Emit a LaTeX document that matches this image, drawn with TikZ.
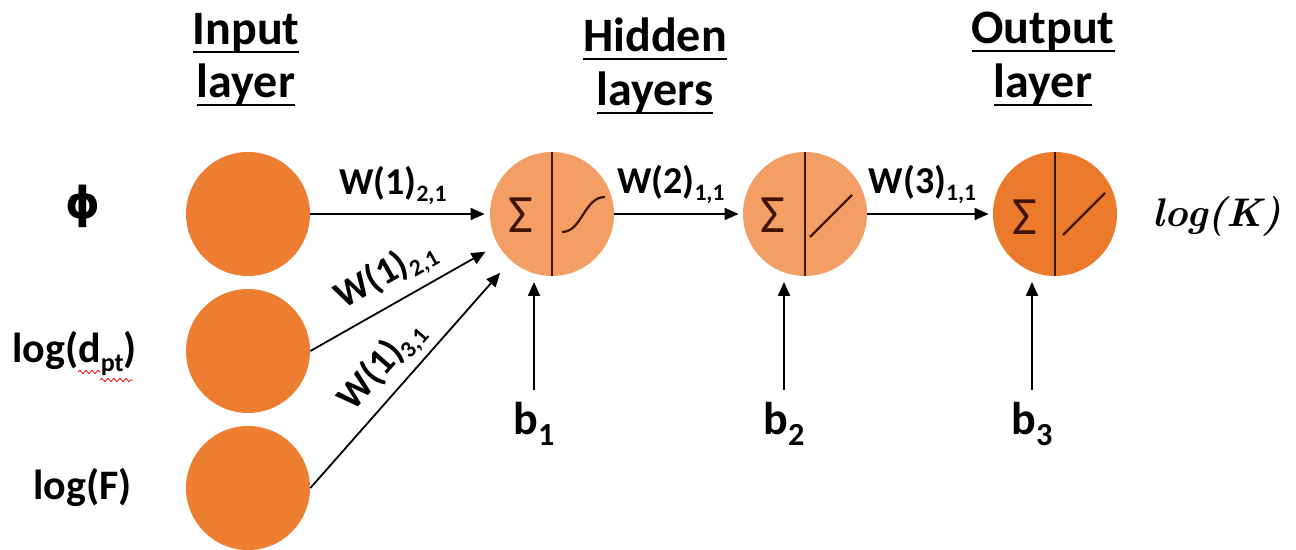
\documentclass[tikz,border=0pt]{standalone}
\usepackage{fontspec}
\setmainfont{Carlito}
\newfontfamily\lmfont{Latin Modern Roman}
\newfontfamily\djfont{DejaVu Sans}
\usepackage{graphicx}
\usetikzlibrary{arrows.meta,decorations.pathmorphing}
\definecolor{inorange}{HTML}{ED7D31}
\definecolor{hidorange}{HTML}{F29E65}
\definecolor{outorange}{HTML}{EC7A2C}
\definecolor{divcol}{HTML}{3F1400}
\newcommand\lsub[1]{\raisebox{-0.2em}{\scalebox{0.62}{#1}}}
\newcommand\bsub[1]{\raisebox{-0.22em}{\scalebox{0.7}{#1}}}
\newcommand\ulbox[1]{\setbox0\hbox{#1}\rlap{\rule[-4pt]{\wd0}{1.1pt}}\box0}
\begin{document}
\begin{tikzpicture}[x=0.5pt,y=-0.5pt,
  incirc/.style={circle,fill=inorange,minimum size=62pt,inner sep=0pt},
  hidcirc/.style={circle,fill=hidorange,minimum size=62pt,inner sep=0pt},
  outcirc/.style={circle,fill=outorange,minimum size=62pt,inner sep=0pt},
  arr/.style={-{Triangle[length=7pt,width=6pt]},line width=0.9pt,black},
  ttl/.style={font=\fontsize{24}{28}\selectfont\bfseries,anchor=base,inner sep=0pt},
  lbl/.style={font=\fontsize{21}{24}\selectfont\bfseries,inner sep=0pt},
  wlbl/.style={font=\fontsize{19}{22}\selectfont\bfseries,inner sep=1pt},
  sig/.style={font=\fontsize{27}{30}\selectfont,text=divcol,inner sep=0pt},
  act/.style={line width=1.1pt,draw=divcol},
  divl/.style={line width=1pt,draw=divcol},
  blbl/.style={font=\fontsize{23}{28}\selectfont\bfseries,inner sep=0pt},
  outlbl/.style={font=\fontsize{20}{24}\selectfont\lmfont\bfseries\itshape,inner sep=0pt}]
\useasboundingbox (0,0) rectangle (1296,550);
% titles
\node[ttl] (t1a) at (246,45) {\ulbox{Input}};
\node[ttl] (t1b) at (246,98) {\ulbox{layer}};
\node[ttl] (t2a) at (655,52) {\ulbox{Hidden}};
\node[ttl] (t2b) at (655,106) {\ulbox{layers}};
\node[ttl] (t3a) at (1043,44) {\ulbox{Output}};
\node[ttl] (t3b) at (1043,98) {\ulbox{layer}};
% input labels
\node[inner sep=0pt,font=\fontsize{22}{26}\selectfont\djfont\bfseries] (phi) at (83,206) {ϕ};
\node[lbl,anchor=base west] (ld) at (12,363) {log(d\lsub{pt})};
\node[lbl,anchor=base west] (lf) at (33,500) {log(F)};
\draw[red,line width=0.4pt,decorate,decoration={snake,amplitude=0.8pt,segment length=3pt}] (78,372) -- (100,372);
\draw[red,line width=0.4pt,decorate,decoration={snake,amplitude=0.8pt,segment length=3pt}] (100,380) -- (133,380);
% circles
\node[incirc] (i1) at (248,214) {};
\node[incirc] (i2) at (248,351) {};
\node[incirc] (i3) at (248,488) {};
\node[hidcirc] (h1) at (552,214) {};
\node[hidcirc] (h2) at (805,214) {};
\node[outcirc] (oc) at (1055,214) {};
% dividers, sums, activations
\draw[divl] (h1.north) -- (h1.south);
\draw[divl] (h2.north) -- (h2.south);
\draw[divl] (oc.north) -- (oc.south);
\node[sig] (s1) at (521,215) {Σ};
\node[sig] (s2) at (773,215) {Σ};
\node[sig] (s3) at (1025,217) {Σ};
\draw[act] (562,232) .. controls (582,232) and (584,197) .. (605,197);
\draw[act] (810,237) -- (852,195);
\draw[act] (1063,235) -- (1105,193);
% connectors
\draw[arr,shorten >=2.5pt] (i1) -- (h1) node[wlbl,pos=0.46,above=3pt] {W(1)\lsub{2,1}};
\draw[arr,shorten >=7pt] (i2.east) -- (h1) node[wlbl,sloped,pos=0.48,above=3pt] {W(1)\lsub{2,1}};
\draw[arr,shorten >=8pt] (i3.east) -- (h1) node[wlbl,sloped,pos=0.46,above=2pt] {W(1)\lsub{3,1}};
\draw[arr,shorten >=2pt] (h1) -- (h2) node[wlbl,pos=0.44,above=3.5pt] {W(2)\lsub{1,1}};
\draw[arr,shorten >=2pt] (h2) -- (oc) node[wlbl,pos=0.44,above=3.5pt] {W(3)\lsub{1,1}};
% biases
\node[blbl,anchor=base] (b1) at (534,435) {b\bsub{1}};
\node[blbl,anchor=base] (b2) at (784,435) {b\bsub{2}};
\node[blbl,anchor=base] (b3) at (1032,435) {b\bsub{3}};
\coordinate (e1) at (534,276);
\coordinate (e2) at (784,276);
\coordinate (e3) at (1032,276);
\draw[arr,shorten <=6pt,shorten >=3pt] (b1.north) -- (e1);
\draw[arr,shorten <=6pt,shorten >=3pt] (b2.north) -- (e2);
\draw[arr,shorten <=6pt,shorten >=3pt] (b3.north) -- (e3);
% output
\node[outlbl] (lk) at (1217,216) {log(K)};
\end{tikzpicture}
\end{document}
